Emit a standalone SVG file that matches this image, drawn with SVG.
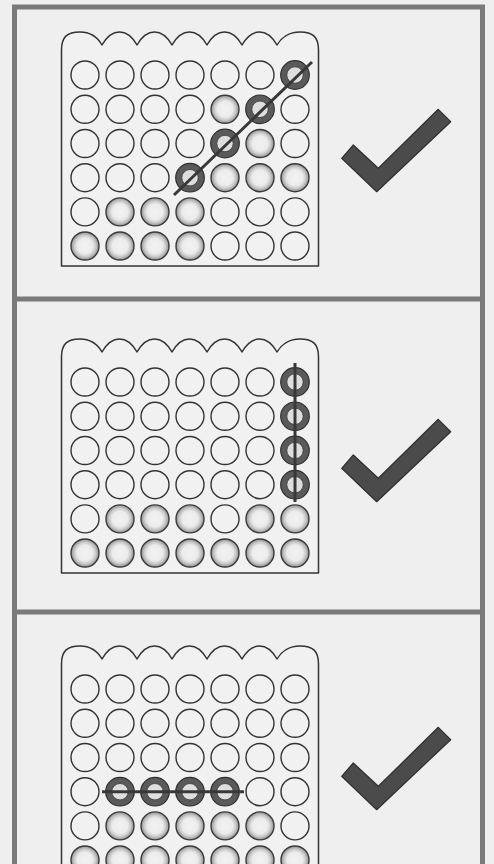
<svg xmlns="http://www.w3.org/2000/svg" xmlns:xlink="http://www.w3.org/1999/xlink" width="494" height="864" viewBox="0 0 494 864">
<defs>
<radialGradient id="gGray" cx="50%" cy="50%" r="50%">
<stop offset="0" stop-color="#f2f2f2"/>
<stop offset="0.55" stop-color="#ececec"/>
<stop offset="0.75" stop-color="#cdcdcd"/>
<stop offset="0.9" stop-color="#a9a9a9"/>
<stop offset="1" stop-color="#989898"/>
</radialGradient>
<g id="empty"><circle r="14" fill="none" stroke="#333" stroke-width="1.4"/></g>
<g id="gray"><circle r="14" fill="url(#gGray)" stroke="#3a3a3a" stroke-width="1.4"/></g>
<g id="dark"><circle r="11.2" fill="#dedede" stroke="#5a5a5a" stroke-width="6"/><circle r="14.3" fill="none" stroke="#2e2e2e" stroke-width="1.2"/><circle r="8.2" fill="none" stroke="#3a3a3a" stroke-width="0.8"/></g>
<path id="board" d="M61.5,266 V50 C61.5,37 67,32 80,32 C91,32 98,38 102,45 C106,38 111,32 119.5,32 C128,32 133,38 137,45 C141,38 146,32 154.5,32 C163,32 168,38 172,45 C176,38 181,32 189.5,32 C198,32 203,38 207,45 C211,38 216,32 224.5,32 C233,32 238,38 242,45 C246,38 251,32 259.5,32 C268,32 273,38 277,45 C281,38 289,32 300,32 C313,32 318.5,37 318.5,50 V266 Z" fill="#f1f1f1" stroke="#333" stroke-width="1.5" stroke-linejoin="round"/>
<path id="check" d="M353.3,145 L378.3,168.3 L438.3,109.3 L450.7,121.7 L376.7,191.7 L341.7,158.3 Z" fill="#4b4b4b" stroke="#2f2f2f" stroke-width="1.2" stroke-linejoin="round"/>
</defs>
<style>
.frame{fill:none;stroke:#7a7a7a;stroke-width:5}
.win{stroke:#383838;stroke-width:3;stroke-linecap:butt}
</style>
<rect x="0" y="0" width="494" height="864" fill="#efefef"/>
<g id="frame">
<path class="frame" d="M14.5,870 V7 H482.5 V870"/>
<line class="frame" x1="14.5" y1="299" x2="482.5" y2="299"/>
<line class="frame" x1="14.5" y1="612" x2="482.5" y2="612"/>
</g>

<g id="panel1">
<use href="#board"/>
<use href="#empty" x="85" y="75"/><use href="#empty" x="120" y="75"/><use href="#empty" x="155" y="75"/><use href="#empty" x="190" y="75"/><use href="#empty" x="225" y="75"/><use href="#empty" x="260" y="75"/><use href="#dark" x="295" y="75"/>
<use href="#empty" x="85" y="109.3"/><use href="#empty" x="120" y="109.3"/><use href="#empty" x="155" y="109.3"/><use href="#empty" x="190" y="109.3"/><use href="#gray" x="225" y="109.3"/><use href="#dark" x="260" y="109.3"/><use href="#empty" x="295" y="109.3"/>
<use href="#empty" x="85" y="143.5"/><use href="#empty" x="120" y="143.5"/><use href="#empty" x="155" y="143.5"/><use href="#empty" x="190" y="143.5"/><use href="#dark" x="225" y="143.5"/><use href="#gray" x="260" y="143.5"/><use href="#empty" x="295" y="143.5"/>
<use href="#empty" x="85" y="177.7"/><use href="#empty" x="120" y="177.7"/><use href="#empty" x="155" y="177.7"/><use href="#dark" x="190" y="177.7"/><use href="#gray" x="225" y="177.7"/><use href="#gray" x="260" y="177.7"/><use href="#gray" x="295" y="177.7"/>
<use href="#empty" x="85" y="211.9"/><use href="#gray" x="120" y="211.9"/><use href="#gray" x="155" y="211.9"/><use href="#gray" x="190" y="211.9"/><use href="#empty" x="225" y="211.9"/><use href="#empty" x="260" y="211.9"/><use href="#empty" x="295" y="211.9"/>
<use href="#gray" x="85" y="246"/><use href="#gray" x="120" y="246"/><use href="#gray" x="155" y="246"/><use href="#gray" x="190" y="246"/><use href="#empty" x="225" y="246"/><use href="#empty" x="260" y="246"/><use href="#empty" x="295" y="246"/>
<line class="win" x1="174" y1="195" x2="312" y2="62"/>
<use href="#check"/>
</g>

<g id="panel2" transform="translate(0,307)">
<use href="#board"/>
<use href="#empty" x="85" y="75"/><use href="#empty" x="120" y="75"/><use href="#empty" x="155" y="75"/><use href="#empty" x="190" y="75"/><use href="#empty" x="225" y="75"/><use href="#empty" x="260" y="75"/><use href="#dark" x="295" y="75"/>
<use href="#empty" x="85" y="109.3"/><use href="#empty" x="120" y="109.3"/><use href="#empty" x="155" y="109.3"/><use href="#empty" x="190" y="109.3"/><use href="#empty" x="225" y="109.3"/><use href="#empty" x="260" y="109.3"/><use href="#dark" x="295" y="109.3"/>
<use href="#empty" x="85" y="143.5"/><use href="#empty" x="120" y="143.5"/><use href="#empty" x="155" y="143.5"/><use href="#empty" x="190" y="143.5"/><use href="#empty" x="225" y="143.5"/><use href="#empty" x="260" y="143.5"/><use href="#dark" x="295" y="143.5"/>
<use href="#empty" x="85" y="177.7"/><use href="#empty" x="120" y="177.7"/><use href="#empty" x="155" y="177.7"/><use href="#empty" x="190" y="177.7"/><use href="#empty" x="225" y="177.7"/><use href="#empty" x="260" y="177.7"/><use href="#dark" x="295" y="177.7"/>
<use href="#empty" x="85" y="211.9"/><use href="#gray" x="120" y="211.9"/><use href="#gray" x="155" y="211.9"/><use href="#gray" x="190" y="211.9"/><use href="#empty" x="225" y="211.9"/><use href="#gray" x="260" y="211.9"/><use href="#gray" x="295" y="211.9"/>
<use href="#gray" x="85" y="246"/><use href="#gray" x="120" y="246"/><use href="#gray" x="155" y="246"/><use href="#gray" x="190" y="246"/><use href="#gray" x="225" y="246"/><use href="#gray" x="260" y="246"/><use href="#gray" x="295" y="246"/>
<line class="win" x1="295" y1="56" x2="295" y2="195"/>
<use href="#check" y="3"/>
</g>

<g id="panel3" transform="translate(0,614)">
<use href="#board"/>
<use href="#empty" x="85" y="75"/><use href="#empty" x="120" y="75"/><use href="#empty" x="155" y="75"/><use href="#empty" x="190" y="75"/><use href="#empty" x="225" y="75"/><use href="#empty" x="260" y="75"/><use href="#empty" x="295" y="75"/>
<use href="#empty" x="85" y="109.3"/><use href="#empty" x="120" y="109.3"/><use href="#empty" x="155" y="109.3"/><use href="#empty" x="190" y="109.3"/><use href="#empty" x="225" y="109.3"/><use href="#empty" x="260" y="109.3"/><use href="#empty" x="295" y="109.3"/>
<use href="#empty" x="85" y="143.5"/><use href="#empty" x="120" y="143.5"/><use href="#empty" x="155" y="143.5"/><use href="#empty" x="190" y="143.5"/><use href="#empty" x="225" y="143.5"/><use href="#empty" x="260" y="143.5"/><use href="#empty" x="295" y="143.5"/>
<use href="#empty" x="85" y="177.7"/><use href="#dark" x="120" y="177.7"/><use href="#dark" x="155" y="177.7"/><use href="#dark" x="190" y="177.7"/><use href="#dark" x="225" y="177.7"/><use href="#empty" x="260" y="177.7"/><use href="#empty" x="295" y="177.7"/>
<use href="#empty" x="85" y="211.9"/><use href="#gray" x="120" y="211.9"/><use href="#gray" x="155" y="211.9"/><use href="#gray" x="190" y="211.9"/><use href="#gray" x="225" y="211.9"/><use href="#gray" x="260" y="211.9"/><use href="#empty" x="295" y="211.9"/>
<use href="#gray" x="85" y="246"/><use href="#gray" x="120" y="246"/><use href="#gray" x="155" y="246"/><use href="#gray" x="190" y="246"/><use href="#gray" x="225" y="246"/><use href="#gray" x="260" y="246"/><use href="#gray" x="295" y="246"/>
<line class="win" x1="102" y1="177.7" x2="244" y2="177.7"/>
<use href="#check" y="4"/>
</g>
</svg>
